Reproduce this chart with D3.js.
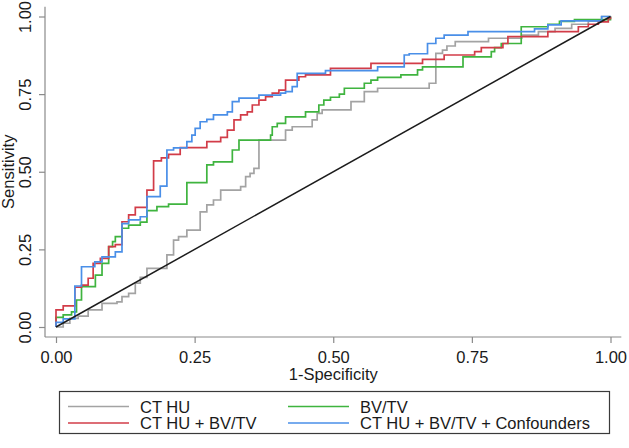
<!DOCTYPE html>
<html>
<head>
<meta charset="utf-8">
<script src="https://cdn.jsdelivr.net/npm/d3@7"></script>
<style>
  html, body { margin: 0; padding: 0; background: #fff; }
  svg { display: block; }
  text { font-family: "Liberation Sans", Arial, Helvetica, sans-serif; fill: #1a1a1a; }
</style>
</head>
<body>
<svg id="chart" width="629" height="448"></svg>
<script>
// ---- Data (1-Specificity, Sensitivity) step points ----
const xTicks = [0, 0.25, 0.5, 0.75, 1];
const yTicks = [0, 0.25, 0.5, 0.75, 1];
const xTitle = "1-Specificity";
const yTitle = "Sensitivity";
const seriesNames = ["CT HU", "BV/TV", "CT HU + BV/TV", "CT HU + BV/TV + Confounders"];
const seriesColors = ["#a3a3a3", "#3fb43f", "#d23c48", "#4a8fe8"];

const ctHU = [[0,0],[0.013,0.012],[0.025,0.028],[0.04,0.035],[0.058,0.055],[0.083,0.076],[0.11,0.081],[0.119,0.098],[0.131,0.108],[0.143,0.141],[0.152,0.16],[0.164,0.189],[0.2,0.232],[0.212,0.28],[0.221,0.291],[0.236,0.312],[0.26,0.371],[0.272,0.393],[0.284,0.409],[0.297,0.441],[0.333,0.452],[0.342,0.484],[0.35,0.495],[0.357,0.511],[0.366,0.602],[0.414,0.634],[0.426,0.645],[0.462,0.667],[0.471,0.688],[0.48,0.699],[0.532,0.726],[0.556,0.758],[0.58,0.769],[0.673,0.785],[0.685,0.881],[0.697,0.892],[0.705,0.905],[0.72,0.919],[0.78,0.93],[0.84,0.94],[0.87,0.951],[0.9,0.962],[0.93,0.975],[0.96,0.985],[0.984,1.0],[1,1]];

const bvtv = [[0,0],[0,0.031],[0.013,0.039],[0.028,0.049],[0.037,0.087],[0.046,0.13],[0.071,0.167],[0.083,0.205],[0.095,0.259],[0.102,0.275],[0.107,0.291],[0.119,0.318],[0.131,0.328],[0.152,0.338],[0.164,0.375],[0.182,0.388],[0.203,0.396],[0.236,0.465],[0.272,0.522],[0.284,0.532],[0.318,0.570],[0.330,0.602],[0.387,0.618],[0.39,0.645],[0.399,0.656],[0.414,0.677],[0.45,0.693],[0.474,0.715],[0.483,0.731],[0.495,0.74],[0.511,0.75],[0.52,0.769],[0.556,0.785],[0.568,0.795],[0.58,0.804],[0.622,0.812],[0.652,0.828],[0.661,0.838],[0.734,0.870],[0.785,0.887],[0.791,0.9],[0.803,0.913],[0.839,0.967],[0.887,0.975],[0.908,0.984],[0.935,0.99],[1,1]];

const ctHUbvtv = [[0,0],[0,0.055],[0.013,0.068],[0.034,0.128],[0.046,0.135],[0.058,0.157],[0.067,0.205],[0.08,0.221],[0.095,0.259],[0.107,0.265],[0.119,0.339],[0.131,0.361],[0.143,0.385],[0.164,0.441],[0.176,0.535],[0.19,0.545],[0.203,0.556],[0.224,0.578],[0.272,0.597],[0.297,0.611],[0.309,0.634],[0.321,0.667],[0.333,0.683],[0.345,0.693],[0.354,0.715],[0.366,0.731],[0.378,0.742],[0.39,0.753],[0.402,0.763],[0.414,0.795],[0.438,0.806],[0.45,0.812],[0.495,0.833],[0.568,0.849],[0.661,0.862],[0.7,0.876],[0.755,0.887],[0.767,0.9],[0.806,0.913],[0.815,0.935],[0.887,0.951],[0.942,0.967],[0.96,0.975],[0.978,0.983],[0.996,0.994],[1,1]];

const ctHUbvtvConf = [[0,0],[0,0.015],[0.013,0.026],[0.034,0.132],[0.046,0.194],[0.07,0.21],[0.083,0.226],[0.107,0.242],[0.119,0.333],[0.131,0.345],[0.152,0.355],[0.164,0.42],[0.188,0.454],[0.2,0.57],[0.212,0.577],[0.236,0.597],[0.245,0.618],[0.251,0.64],[0.26,0.661],[0.272,0.669],[0.284,0.683],[0.309,0.693],[0.318,0.726],[0.33,0.737],[0.366,0.747],[0.405,0.753],[0.414,0.758],[0.426,0.774],[0.435,0.817],[0.486,0.826],[0.58,0.838],[0.628,0.876],[0.637,0.88],[0.67,0.913],[0.685,0.93],[0.7,0.94],[0.743,0.951],[0.863,0.96],[0.887,0.973],[0.911,0.986],[0.984,1.0],[1,1]];

const reference = [[0,0],[1,1]];

const seriesData = [ctHU, bvtv, ctHUbvtv, ctHUbvtvConf];

// ---- Layout ----
const svg = d3.select("#chart");
svg.append("rect").attr("width", 629).attr("height", 448).attr("fill", "#fff");

const x = d3.scaleLinear().domain([0, 1]).range([56, 610.5]);
const y = d3.scaleLinear().domain([0, 1]).range([327, 16.5]);
const axisColor = "#8a8a8a";
const fs = 16.5;

// X axis
const xAxisY = 337;
const gx = svg.append("g").attr("transform", `translate(0,${xAxisY})`)
  .call(d3.axisBottom(x).tickValues(xTicks).tickFormat(d3.format(".2f")).tickSize(6).tickSizeOuter(0));
gx.select(".domain").remove();
gx.selectAll(".tick line").attr("stroke", axisColor).attr("stroke-width", 1.2);
gx.selectAll(".tick text").attr("y", 26).attr("dy", 0).style("font-size", fs + "px")
  .style("font-family", "Liberation Sans, Arial, sans-serif").attr("fill", "#1a1a1a");
svg.append("line").attr("x1", x(-0.02)).attr("x2", x(1.0195))
  .attr("y1", xAxisY).attr("y2", xAxisY).attr("stroke", axisColor).attr("stroke-width", 1.2);

// Y axis
const yAxisX = 45;
const gy = svg.append("g").attr("transform", `translate(${yAxisX},0)`)
  .call(d3.axisLeft(y).tickValues(yTicks).tickFormat(d3.format(".2f")).tickSize(6).tickSizeOuter(0));
gy.select(".domain").remove();
gy.selectAll(".tick line").attr("stroke", axisColor).attr("stroke-width", 1.2);
gy.selectAll(".tick text").attr("x", 0).attr("y", 0).attr("dy", 0)
  .attr("text-anchor", "middle")
  .attr("transform", "translate(-14,0) rotate(-90)")
  .style("font-size", fs + "px")
  .style("font-family", "Liberation Sans, Arial, sans-serif").attr("fill", "#1a1a1a");
svg.append("line").attr("x1", yAxisX).attr("x2", yAxisX)
  .attr("y1", xAxisY).attr("y2", y(1.031)).attr("stroke", axisColor).attr("stroke-width", 1.2);

// Axis titles
svg.append("text").attr("x", x(0.5)).attr("y", 380).attr("text-anchor", "middle")
  .style("font-size", fs + "px").text(xTitle);
svg.append("text").attr("transform", `translate(13.5,${y(0.5)}) rotate(-90)`).attr("text-anchor", "middle")
  .style("font-size", fs + "px").text(yTitle);

// Curves
const line = d3.line().x(d => x(d[0])).y(d => y(d[1])).curve(d3.curveStepAfter);
seriesData.forEach((data, i) => {
  svg.append("path").datum(data).attr("d", line).attr("fill", "none")
    .attr("stroke", seriesColors[i]).attr("stroke-width", 1.7).attr("stroke-linejoin", "miter");
});

// Reference diagonal
svg.append("path").datum(reference)
  .attr("d", d3.line().x(d => x(d[0])).y(d => y(d[1])))
  .attr("fill", "none").attr("stroke", "#1c1c1c").attr("stroke-width", 1.5);

// Legend
const lg = svg.append("g");
lg.append("rect").attr("x", 59.5).attr("y", 391.5).attr("width", 550).attr("height", 42)
  .attr("fill", "#fff").attr("stroke", "#3a3a3a").attr("stroke-width", 1.2);
const legendPos = [
  {lx: 68, tx: 140, ly: 406.5},
  {lx: 288, tx: 360, ly: 406.5},
  {lx: 68, tx: 140, ly: 423},
  {lx: 288, tx: 360, ly: 423}
];
seriesNames.forEach((name, i) => {
  const p = legendPos[i];
  lg.append("line").attr("x1", p.lx).attr("x2", p.lx + 61).attr("y1", p.ly).attr("y2", p.ly)
    .attr("stroke", seriesColors[i]).attr("stroke-width", 1.7);
  lg.append("text").attr("x", p.tx).attr("y", p.ly + 6).style("font-size", fs + "px").text(name);
});
</script>
</body>
</html>
